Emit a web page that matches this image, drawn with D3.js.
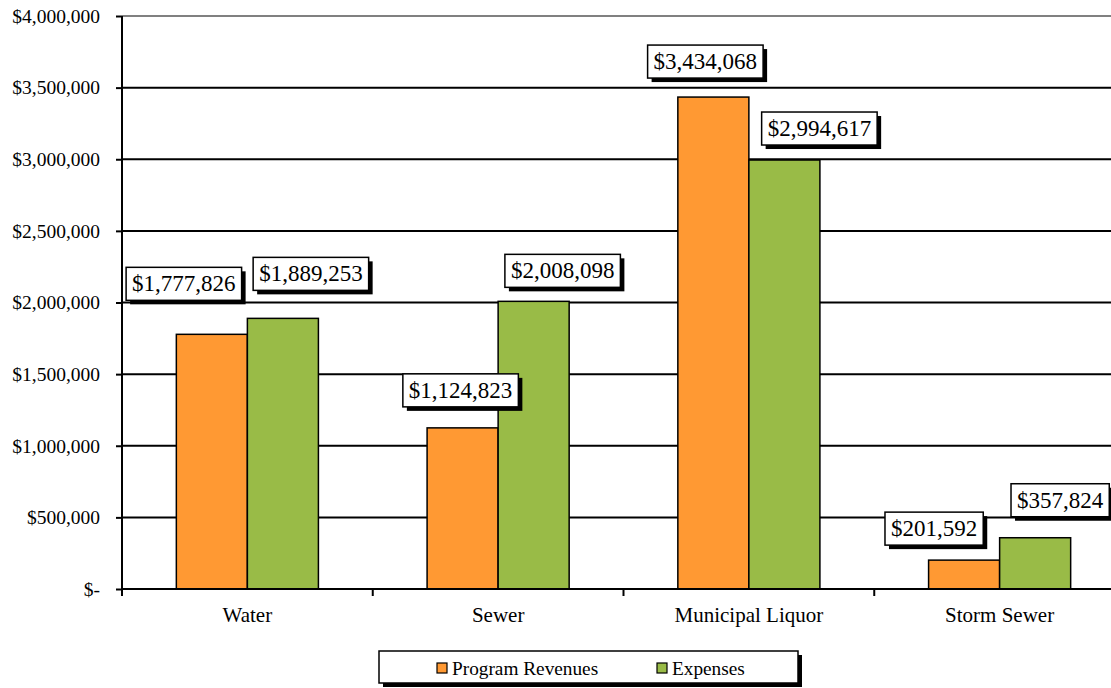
<!DOCTYPE html>
<html>
<head>
<meta charset="utf-8">
<script src="https://cdn.jsdelivr.net/npm/d3@7/dist/d3.min.js"></script>
<style>
  html, body { margin: 0; padding: 0; background: #fff; }
  svg { display: block; }
</style>
</head>
<body>
<svg id="chart" width="1111" height="688" font-family="Liberation Serif"></svg>
<script>
// Enterprise funds: program revenues vs. expenses
const categories = ["Water", "Sewer", "Municipal Liquor", "Storm Sewer"];
const seriesNames = ["Program Revenues", "Expenses"];
const programRevenues = [1777826, 1124823, 3434068, 201592];
const expenses = [1889253, 2008098, 2994617, 357824];
const yTicks = [0, 500000, 1000000, 1500000, 2000000, 2500000, 3000000, 3500000, 4000000];
const seriesColors = ["#FF9933", "#99BB47"];
const FONT = "Liberation Serif";

// Hand-placed offsets for the value callouts (dx from bar centre, gap above bar top)
const labelNudge = [
  [[-28, 34], [28, 28]],
  [[-2, 21], [29, 14]],
  [[-8, 19], [35, 15]],
  [[-30, 15], [25, 21]]
];

const svg = d3.select("#chart");
const W = 1111, H = 688;
const plot = { left: 122, right: 1125, top: 16, bottom: 589 };

const x0 = d3.scaleBand().domain(categories).range([plot.left, plot.right]).padding(0);
const x1 = d3.scaleBand().domain(seriesNames).range([0, x0.bandwidth()]).paddingInner(0).paddingOuter(0.765);
const y = d3.scaleLinear().domain([0, 4000000]).range([plot.bottom, plot.top]);

const rows = categories.map((c, i) => ({ cat: c, vals: [programRevenues[i], expenses[i]] }));

// Horizontal gridlines
svg.append("g").selectAll("line").data(yTicks.filter(t => t > 0)).join("line")
  .attr("x1", plot.left).attr("x2", W)
  .attr("y1", d => y(d)).attr("y2", d => y(d))
  .attr("stroke", d => d === 4000000 ? "#808080" : "#000")
  .attr("stroke-width", 2);

// Bars
const groups = svg.append("g").selectAll("g").data(rows).join("g")
  .attr("transform", d => `translate(${x0(d.cat)},0)`);
groups.selectAll("rect").data(d => d.vals.map((v, j) => ({ v, j }))).join("rect")
  .attr("x", d => x1(seriesNames[d.j]))
  .attr("width", x1.bandwidth())
  .attr("y", d => y(d.v))
  .attr("height", d => y(0) - y(d.v))
  .attr("fill", d => seriesColors[d.j])
  .attr("stroke", "#000").attr("stroke-width", 1.5);

// Y axis
const fmt = d3.format(",");
const yAxis = d3.axisLeft(y).tickValues(yTicks).tickSize(6).tickPadding(16)
  .tickFormat(d => d === 0 ? "$-" : "$" + fmt(d));
const gy = svg.append("g").attr("transform", `translate(${plot.left},0)`).call(yAxis)
  .attr("font-family", FONT).attr("font-size", 19.5);
gy.select(".domain").remove();
gy.selectAll(".tick line").attr("stroke", "#000").attr("stroke-width", 2);
gy.selectAll("text").attr("fill", "#000").attr("font-family", FONT).attr("font-size", 19.5);

// X axis
const xAxis = d3.axisBottom(x0).tickSize(0).tickPadding(18);
const gx = svg.append("g").attr("transform", `translate(0,${plot.bottom})`).call(xAxis)
  .attr("font-family", FONT).attr("font-size", 21);
gx.select(".domain").remove();
gx.selectAll("text").attr("fill", "#000").attr("font-family", FONT).attr("font-size", 21);
// category divider ticks
svg.append("g").selectAll("line").data(categories).join("line")
  .attr("x1", d => x0(d)).attr("x2", d => x0(d))
  .attr("y1", plot.bottom).attr("y2", plot.bottom + 7)
  .attr("stroke", "#000").attr("stroke-width", 2);

// Axis lines
svg.append("line").attr("x1", plot.left).attr("x2", plot.left)
  .attr("y1", plot.top).attr("y2", plot.bottom + 7)
  .attr("stroke", "#000").attr("stroke-width", 2);
svg.append("line").attr("x1", plot.left).attr("x2", W)
  .attr("y1", plot.bottom).attr("y2", plot.bottom)
  .attr("stroke", "#000").attr("stroke-width", 2);

// Value callouts
const labels = [];
rows.forEach((r, i) => r.vals.forEach((v, j) => labels.push({ i, j, v, cat: r.cat })));
const lg = svg.append("g").selectAll("g").data(labels).join("g");
lg.each(function (d) {
  const g = d3.select(this);
  const cx = x0(d.cat) + x1(seriesNames[d.j]) + x1.bandwidth() / 2 + labelNudge[d.i][d.j][0];
  const bottom = y(d.v) - labelNudge[d.i][d.j][1];
  const t = g.append("text").text("$" + fmt(d.v))
    .attr("font-family", FONT).attr("font-size", 23).attr("text-anchor", "middle")
    .attr("x", cx).attr("y", bottom - 9);
  const w = t.node().getComputedTextLength() + 12;
  const h = 33;
  g.insert("rect", "text").attr("x", cx - w / 2 + 4).attr("y", bottom - h + 4)
    .attr("width", w).attr("height", h).attr("fill", "#000");
  g.insert("rect", "text").attr("x", cx - w / 2).attr("y", bottom - h)
    .attr("width", w).attr("height", h).attr("fill", "#fff")
    .attr("stroke", "#000").attr("stroke-width", 1.5);
});

// Legend
const leg = svg.append("g");
leg.append("rect").attr("x", 383).attr("y", 655).attr("width", 419).attr("height", 32).attr("fill", "#000");
leg.append("rect").attr("x", 379).attr("y", 651).attr("width", 419).attr("height", 32)
  .attr("fill", "#fff").attr("stroke", "#000").attr("stroke-width", 1.5);
const legX = [437, 657];
seriesNames.forEach((s, j) => {
  leg.append("rect").attr("x", legX[j]).attr("y", 663).attr("width", 10).attr("height", 10)
    .attr("fill", seriesColors[j]).attr("stroke", "#000").attr("stroke-width", 1.2);
  leg.append("text").attr("x", legX[j] + 15).attr("y", 675)
    .attr("font-family", FONT).attr("font-size", 19.3).text(s);
});
</script>
</body>
</html>
